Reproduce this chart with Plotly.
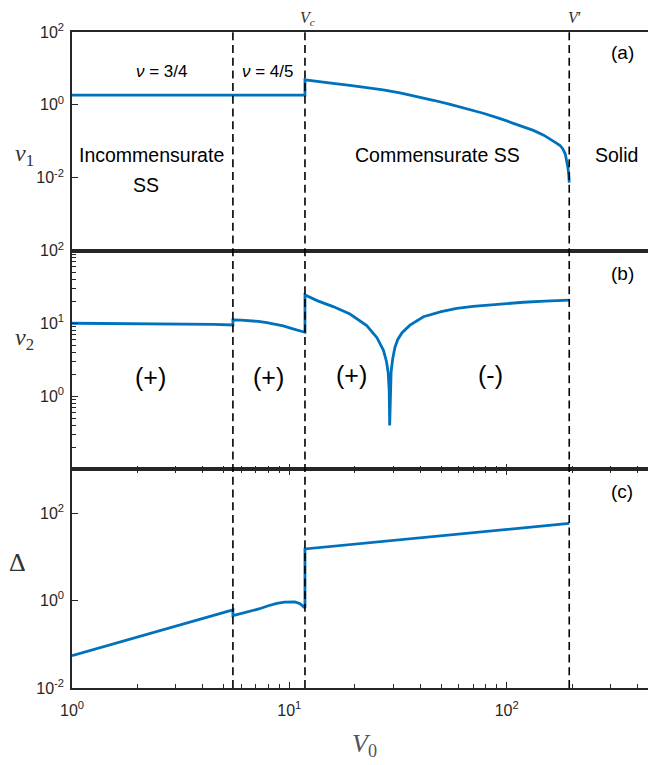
import math
import plotly.graph_objects as go
from plotly.subplots import make_subplots

# ---------------- data ----------------
# panel (a): v1 vs V0
v1_V = [1.0, 5.5, 11.8, 11.8, 13.5, 15.9, 19.0, 22.7, 27.0, 32.3, 38.5, 46.0, 55.0, 65.5, 78.0,
        93.3, 112.0, 132.7, 148.0, 158.5, 168.0, 176.0, 181.0, 186.0, 189.0, 191.0, 193.0, 194.0]
v1_val = [1.85, 1.85, 1.85, 4.9, 4.35, 3.89, 3.45, 3.01, 2.58, 2.14, 1.72, 1.34, 1.03, 0.79, 0.59,
          0.42, 0.29, 0.20, 0.148, 0.117, 0.092, 0.077, 0.063, 0.045, 0.030, 0.020, 0.012, 0.0074]

# panel (b): v2 vs V0
v2_V = [1.0, 3.0, 4.5, 5.5, 5.5, 6.0, 6.6, 7.2, 7.87, 8.6, 9.38, 10.2, 11.0, 11.8, 11.8,
        13.5, 15.9, 19.0, 22.7, 25.3, 27.1, 28.0, 28.5, 28.8, 28.95, 29.1, 29.4, 29.9, 30.6,
        31.5, 33.0, 35.9, 41.4, 50.0, 58.9, 70.0, 83.9, 100.0, 119.5, 150.0, 194.0]
v2_val = [10.1, 9.95, 9.75, 9.55, 11.2, 11.15, 11.0, 10.7, 10.3, 9.8, 9.27, 8.6, 8.1, 7.6, 24.7,
          20.5, 17.1, 13.5, 9.4, 6.4, 4.3, 3.0, 2.1, 1.2, 0.40, 1.2, 2.2, 3.3, 4.7,
          6.0, 7.5, 9.5, 12.4, 14.6, 16.2, 17.2, 18.0, 18.9, 19.6, 20.3, 21.0]

# panel (c): Delta vs V0
d_V = [1.0, 2.0, 3.0, 5.5, 5.5, 6.0, 6.36, 7.3, 8.0, 8.76, 9.5, 10.05, 10.6, 11.2, 11.5, 11.8, 11.8,
       20.0, 40.0, 80.0, 194.0]
d_val = [0.055, 0.146, 0.26, 0.61, 0.45, 0.50, 0.54, 0.65, 0.76, 0.86, 0.92, 0.94, 0.93, 0.85, 0.77, 0.68, 15.1,
         19.4, 27.1, 37.8, 58.0]

# phase boundaries (5.5, V_c, V')
boundaries = [5.5, 11.8, 194.0]

# tick labels
x_tickvals = [1, 10, 100]
x_ticktext = ["10<sup>0</sup>", "10<sup>1</sup>", "10<sup>2</sup>"]
x_minor = [2, 3, 4, 5, 6, 7, 8, 9, 20, 30, 40, 50, 60, 70, 80, 90, 200, 300, 400]
ya_tickvals = [1e-4, 1e-2, 1, 100]
ya_ticktext = ["", "10<sup>-2</sup>", "10<sup>0</sup>", "10<sup>2</sup>"]
yb_tickvals = [1, 10, 100]
yb_ticktext = ["10<sup>0</sup>", "10<sup>1</sup>", "10<sup>2</sup>"]
yb_minor = [0.2, 0.3, 0.4, 0.5, 0.6, 0.7, 0.8, 0.9, 2, 3, 4, 5, 6, 7, 8, 9, 20, 30, 40, 50, 60, 70, 80, 90]
yc_tickvals = [1e-2, 1, 100, 1000]
yc_ticktext = ["10<sup>-2</sup>", "10<sup>0</sup>", "10<sup>2</sup>", ""]

# ---------------- figure ----------------
BLUE = "#0072BD"
AX = "#262626"
SANS = "Liberation Sans, Arial, Helvetica, sans-serif"
SERIF = "Liberation Serif, Times New Roman, serif"

fig = make_subplots(rows=3, cols=1, shared_xaxes=True, vertical_spacing=0)
line_style = dict(color=BLUE, width=2.8)
fig.add_trace(go.Scatter(x=v1_V, y=v1_val, mode="lines", line=line_style), row=1, col=1)
fig.add_trace(go.Scatter(x=v2_V, y=v2_val, mode="lines", line=line_style), row=2, col=1)
fig.add_trace(go.Scatter(x=d_V, y=d_val, mode="lines", line=line_style), row=3, col=1)

xr = [0, 2.687]
common_x = dict(type="log", range=xr, showgrid=False, zeroline=False, showline=True,
                linecolor=AX, linewidth=1.5, automargin=False)
common_y = dict(type="log", showgrid=False, zeroline=False, showline=True, linecolor=AX,
                linewidth=1.5, mirror="allticks", ticks="inside", ticklen=6, tickwidth=1,
                tickcolor=AX, automargin=False, ticklabelstandoff=3)
tickfont = dict(family=SANS, size=16, color=AX)
minor_ticks = dict(ticks="inside", ticklen=4, tickwidth=1, tickcolor=AX, showgrid=False)

# the page body has an 8px default margin: size the figure so the plot area lands where the reference has it
fig.update_layout(
    xaxis=dict(**common_x, mirror=True, ticks="", showticklabels=False),
    xaxis2=dict(**common_x, mirror=True, ticks="inside", ticklen=6, tickwidth=1, tickcolor=AX,
                tickvals=x_tickvals, showticklabels=False,
                minor=dict(**minor_ticks, tickvals=x_minor)),
    xaxis3=dict(**common_x, mirror="allticks", ticks="inside", ticklen=6, tickwidth=1, tickcolor=AX,
                tickvals=x_tickvals, ticktext=x_ticktext, tickfont=tickfont, ticklabelstandoff=7,
                minor=dict(**minor_ticks, tickvals=x_minor)),
    yaxis=dict(**common_y, range=[-4, 2], tickvals=ya_tickvals, ticktext=ya_ticktext, tickfont=tickfont),
    yaxis2=dict(**common_y, range=[-1, 2], tickvals=yb_tickvals, ticktext=yb_ticktext, tickfont=tickfont,
                minor=dict(**minor_ticks, tickvals=yb_minor)),
    yaxis3=dict(**common_y, range=[-2, 3], tickvals=yc_tickvals, ticktext=yc_ticktext, tickfont=tickfont),
    width=648, height=757,
    margin=dict(l=64, r=0, t=24, b=77, autoexpand=False),
    plot_bgcolor="white", paper_bgcolor="white",
    showlegend=False,
)

# dashed phase-boundary lines spanning all panels
for b in boundaries:
    fig.add_shape(type="line", xref="x3", yref="paper", x0=b, x1=b, y0=0, y1=1,
                  line=dict(color="black", width=1.6, dash="8px,4.7px"), layer="above")

def txt(x, y, s, size, family=SANS, color="black", yanchor="middle"):
    fig.add_annotation(x=x, y=y, xref="paper", yref="paper", text=s, showarrow=False,
                       xanchor="center", yanchor=yanchor, borderpad=0,
                       font=dict(family=family, size=size, color=color))

# top labels (kept inside the figure's top edge)
txt(0.4033, 1.0366, "<i>V<sub>c</sub></i>", 16, SERIF, "#333333", yanchor="top")
txt(0.8596, 1.0366, "<i>V</i>′", 16, SERIF, "#333333", yanchor="top")
# panel tags
txt(0.942, 0.968, "(a)", 19)
txt(0.942, 0.632, "(b)", 19)
txt(0.942, 0.299, "(c)", 19)
# panel (a) texts
txt(0.1536, 0.9405, "<i>ν</i> = 3/4", 17)
txt(0.3356, 0.9405, "<i>ν</i> = 4/5", 17)
txt(0.1358, 0.8125, "Incommensurate", 19.5)
txt(0.1267, 0.7668, "SS", 19.5)
txt(0.6253, 0.813, "Commensurate SS", 19.5)
txt(0.933, 0.813, "Solid", 19.5)
# panel (b) signs
txt(0.134, 0.474, "(+)", 25)
txt(0.336, 0.474, "(+)", 25)
txt(0.479, 0.477, "(+)", 25)
txt(0.716, 0.477, "(-)", 25)
# axis labels
txt(-0.0805, 0.8125, "<i>v</i><sub>1</sub>", 24, SERIF, "#333333")
txt(-0.0805, 0.532, "<i>v</i><sub>2</sub>", 24, SERIF, "#333333")
txt(-0.0933, 0.1913, "Δ", 26, SERIF, "#333333")
txt(0.5, -0.0869, "<i>V</i><sub>0</sub>", 26, SERIF, "#555555")

fig.write_html("out.html")
